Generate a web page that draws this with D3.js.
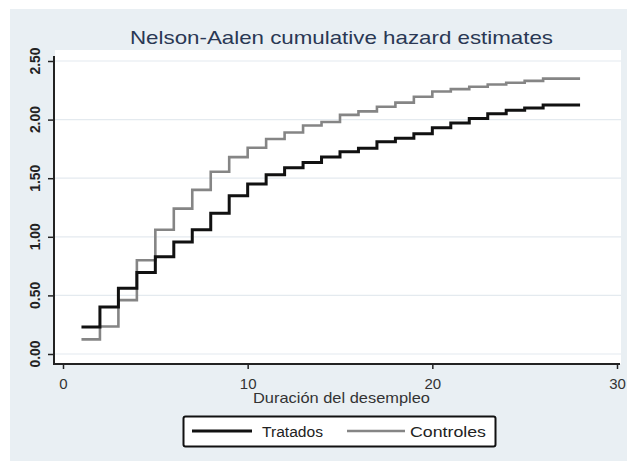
<!DOCTYPE html>
<html>
<head>
<meta charset="utf-8">
<script src="https://cdn.jsdelivr.net/npm/d3@7"></script>
<style>
  body { margin: 0; background: #ffffff; }
  svg { display: block; font-family: "Liberation Sans", Arial, sans-serif; }
</style>
</head>
<body>
<svg id="hazard"></svg>
<script>
// time points where the estimates step up, the curves end at endTime
let times = [1, 2, 3, 4, 5, 6, 7, 8, 9, 10, 11, 12, 13, 14, 15, 16, 17, 18, 19, 20, 21, 22, 23, 24, 25, 26];
let endTime = 28;

let tratados = [0.23, 0.40, 0.56, 0.695, 0.83, 0.955, 1.06, 1.20, 1.35, 1.45, 1.53, 1.59, 1.635,
  1.68, 1.725, 1.755, 1.81, 1.84, 1.88, 1.93, 1.97, 2.01, 2.05, 2.08, 2.10, 2.125];
let controles = [0.125, 0.235, 0.46, 0.80, 1.06, 1.24, 1.40, 1.555, 1.68, 1.76, 1.835, 1.89, 1.95,
  1.98, 2.04, 2.07, 2.11, 2.145, 2.195, 2.24, 2.26, 2.28, 2.30, 2.315, 2.33, 2.35];

let xTicks = [0, 10, 20, 30];
let yTicks = [0, 0.5, 1, 1.5, 2, 2.5];
let yLabels = ["0.00", "0.50", "1.00", "1.50", "2.00", "2.50"];

let seriesNames = ["Tratados", "Controles"];

let config = {
  'svg': {width: 627, height: 461},
  'plot': {},
  'colors': {bg: "#e9eff3", grid: "#e4eaef", axis: "#222222", tratados: "#111111", controles: "#858585"}
};

config.plot.left = 55;
config.plot.right = 621;
config.plot.top = 50;
config.plot.bottom = 364;

let svg = d3.select("svg#hazard")
  .attr("width", config.svg.width)
  .attr("height", config.svg.height);

// outer graph region
svg.append("rect")
  .attr("x", 10).attr("y", 9)
  .attr("width", config.svg.width - 10)
  .attr("height", config.svg.height - 9)
  .attr("fill", config.colors.bg);

// white plot region
svg.append("rect")
  .attr("x", config.plot.left)
  .attr("y", config.plot.top)
  .attr("width", config.plot.right - config.plot.left)
  .attr("height", config.plot.bottom - config.plot.top)
  .attr("fill", "#ffffff");

let scale = {};
scale.x = d3.scaleLinear().domain([0, 30]).range([63, 617]);
scale.y = d3.scaleLinear().domain([0, 2.5]).range([354, 61]);

// gridlines
svg.append("g")
  .selectAll("line")
  .data(yTicks)
  .enter()
  .append("line")
  .attr("x1", config.plot.left)
  .attr("x2", config.plot.right)
  .attr("y1", d => scale.y(d))
  .attr("y2", d => scale.y(d))
  .attr("stroke", config.colors.grid)
  .attr("stroke-width", 1.2);

// step curves
let line = d3.line()
  .x(d => scale.x(d.t))
  .y(d => scale.y(d.v))
  .curve(d3.curveStepAfter);

function toPoints(values) {
  let pts = times.map((t, i) => ({t: t, v: values[i]}));
  pts.push({t: endTime, v: values[values.length - 1]});
  return pts;
}

svg.append("path")
  .attr("d", line(toPoints(controles)))
  .attr("fill", "none")
  .attr("stroke", config.colors.controles)
  .attr("stroke-width", 2.6);

svg.append("path")
  .attr("d", line(toPoints(tratados)))
  .attr("fill", "none")
  .attr("stroke", config.colors.tratados)
  .attr("stroke-width", 3);

// axes
let axis = {};
axis.x = d3.axisBottom(scale.x).tickValues(xTicks).tickSize(5).tickSizeOuter(0).tickPadding(6);
axis.y = d3.axisLeft(scale.y).tickValues(yTicks).tickSize(6).tickSizeOuter(0).tickFormat("");

let gx = svg.append("g")
  .attr("transform", translate(0, config.plot.bottom))
  .call(axis.x);
gx.select(".domain").remove();
gx.append("line")
  .attr("x1", config.plot.left - 1).attr("x2", config.plot.right - 1)
  .attr("stroke", config.colors.axis).attr("stroke-width", 2);
gx.selectAll(".tick line").attr("stroke", config.colors.axis).attr("stroke-width", 1.5);
gx.selectAll(".tick text")
  .attr("font-size", "15px")
  .attr("fill", "#333333")
  .attr("dy", "0.9em");

let gy = svg.append("g")
  .attr("transform", translate(config.plot.left - 1, 0))
  .call(axis.y);
gy.select(".domain").remove();
gy.append("line")
  .attr("y1", 56).attr("y2", config.plot.bottom + 1)
  .attr("stroke", config.colors.axis).attr("stroke-width", 2);
gy.selectAll(".tick line").attr("stroke", config.colors.axis).attr("stroke-width", 1.5);

// rotated y labels
svg.append("g")
  .selectAll("text")
  .data(yTicks)
  .enter()
  .append("text")
  .text((d, i) => yLabels[i])
  .attr("transform", d => translate(39.5, scale.y(d)) + " rotate(-90)")
  .attr("text-anchor", "middle")
  .attr("font-size", "14px")
  .attr("font-weight", "bold")
  .attr("fill", "#222222")
  .attr("textLength", 27)
  .attr("lengthAdjust", "spacingAndGlyphs");

// titles
svg.append("text")
  .text("Nelson-Aalen cumulative hazard estimates")
  .attr("x", 341.5).attr("y", 44)
  .attr("text-anchor", "middle")
  .attr("font-size", "19px")
  .attr("fill", "#2a3854")
  .attr("textLength", 423)
  .attr("lengthAdjust", "spacingAndGlyphs");

svg.append("text")
  .text("Duración del desempleo")
  .attr("x", 341.5).attr("y", 403)
  .attr("text-anchor", "middle")
  .attr("font-size", "15px")
  .attr("fill", "#333333")
  .attr("textLength", 177)
  .attr("lengthAdjust", "spacingAndGlyphs");

drawLegend();

function drawLegend() {
  let legend = svg.append("g").attr("id", "legend");

  legend.append("rect")
    .attr("x", 183.5).attr("y", 416.5)
    .attr("width", 312).attr("height", 30)
    .attr("rx", 2)
    .attr("fill", "#ffffff")
    .attr("stroke", "#111111")
    .attr("stroke-width", 2);

  let items = [
    {name: seriesNames[0], color: config.colors.tratados, width: 3, x1: 192, x2: 252, tx: 262, tw: 61},
    {name: seriesNames[1], color: config.colors.controles, width: 2.6, x1: 347, x2: 405, tx: 410, tw: 76}
  ];

  legend.selectAll("line")
    .data(items)
    .enter()
    .append("line")
    .attr("x1", d => d.x1).attr("x2", d => d.x2)
    .attr("y1", 431).attr("y2", 431)
    .attr("stroke", d => d.color)
    .attr("stroke-width", d => d.width);

  legend.selectAll("text")
    .data(items)
    .enter()
    .append("text")
    .text(d => d.name)
    .attr("x", d => d.tx).attr("y", 437)
    .attr("font-size", "14px")
    .attr("fill", "#222222")
    .attr("textLength", d => d.tw)
    .attr("lengthAdjust", "spacingAndGlyphs");
}

function translate(x, y) {
  return 'translate(' + x + ',' + y + ')';
}
</script>
</body>
</html>
